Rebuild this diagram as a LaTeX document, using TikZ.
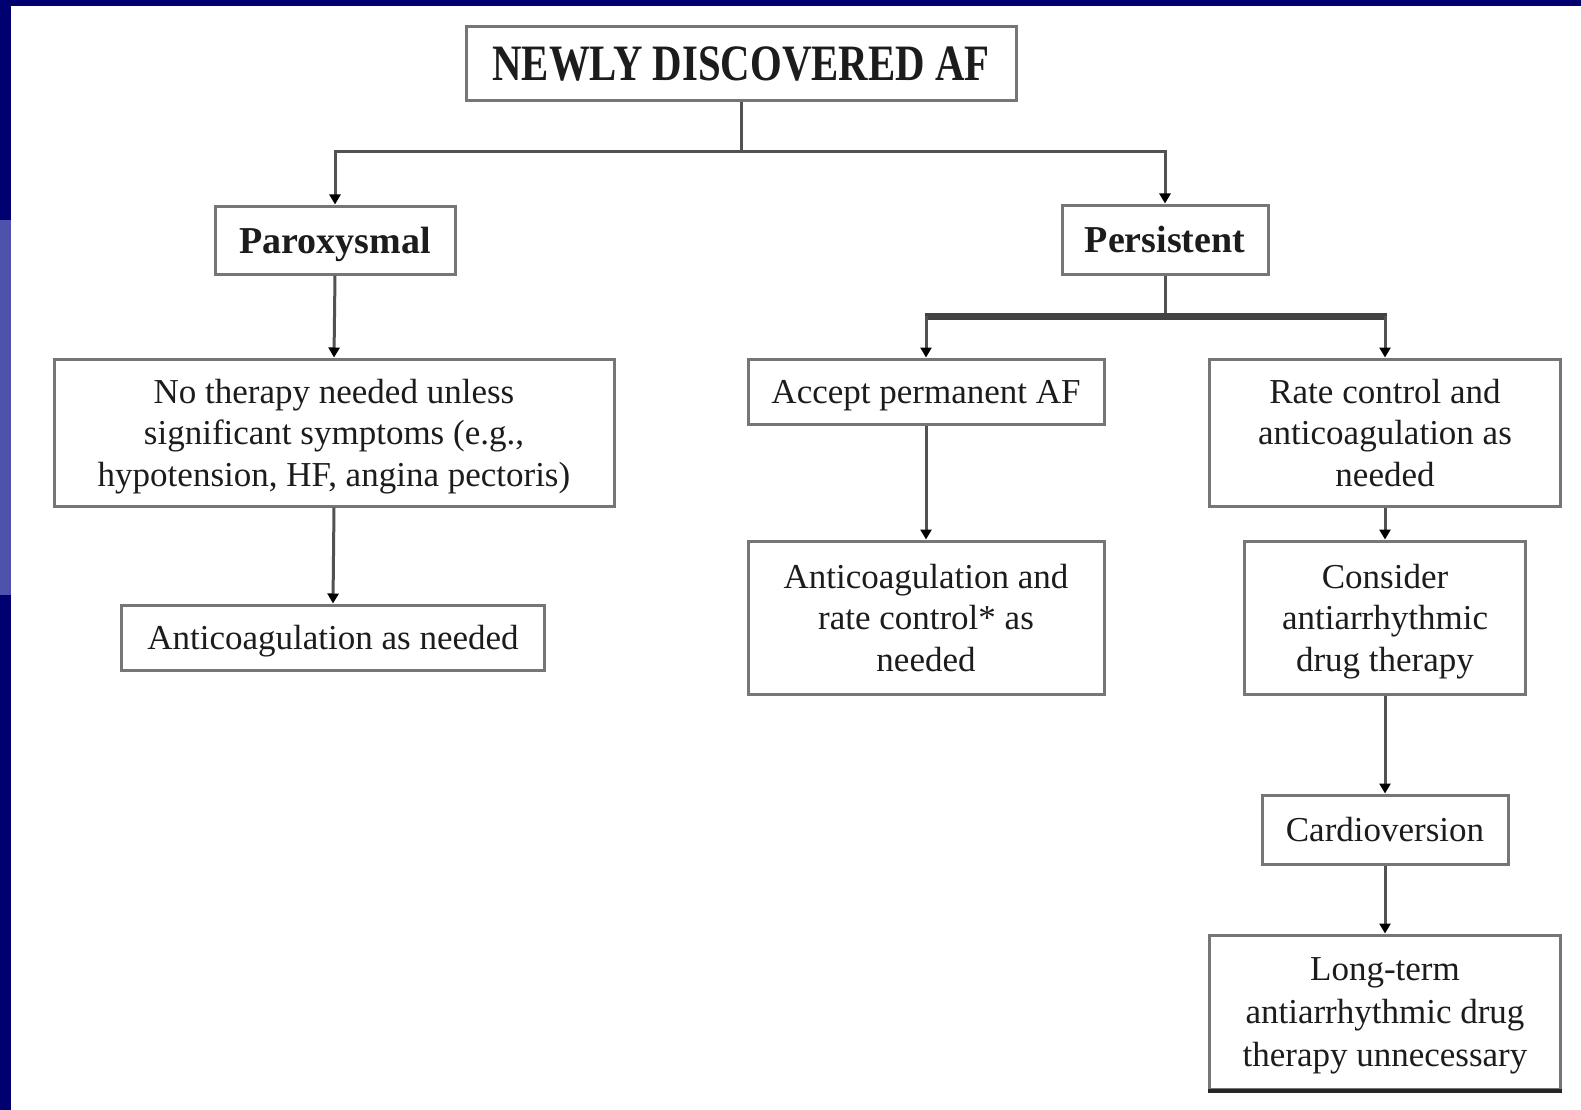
\documentclass[tikz,border=0pt]{standalone}
\usepackage{fontspec}
\setmainfont{Liberation Serif}
\newfontfamily\titlefont{Liberation Serif}[FakeStretch=0.8]
\usetikzlibrary{arrows.meta}
\definecolor{navy}{RGB}{0,0,112}
\definecolor{navylight}{RGB}{78,82,170}
\definecolor{boxline}{RGB}{118,118,118}
\definecolor{wire}{RGB}{82,82,82}
\definecolor{ink}{RGB}{28,28,28}

\begin{document}
\begin{tikzpicture}[x=1pt,y=-1pt,
  box/.style={draw=boxline, line width=3pt, fill=white, align=center,
    inner sep=0pt, text depth=0pt, text=ink, font=\fontsize{35}{41.5}\selectfont},
  head/.style={box, font=\fontsize{38}{44}\selectfont\bfseries},
  wire/.style={draw=wire, line width=3pt},
  arr/.style={wire, -{Triangle[length=10pt,width=11pt,color=black]}},
  bar/.style={draw=wire!80!black, line width=7pt}]

% page frame
\useasboundingbox (0,0) rectangle (1581,1110);
\fill[white] (0,0) rectangle (1581,1110);
\fill[navy] (0,0) rectangle (1581,6);
\fill[navy] (0,0) rectangle (11,1110);
\fill[navylight] (0,220) rectangle (11,595);

% boxes
\node[box, minimum width=550pt, minimum height=74pt,
  font=\fontsize{51}{56}\selectfont\titlefont\bfseries] (title) at (741,64) {NEWLY DISCOVERED AF};

\node[head, minimum width=240pt, minimum height=68pt] (parox) at (335,240) {Paroxysmal};
\node[head, minimum width=206pt, minimum height=69pt] (persist) at (1165,239.5) {Persistent};

\node[box, minimum width=560pt, minimum height=147pt] (nother) at (334,432.5)
  {No therapy needed unless\\significant symptoms (e.g.,\\hypotension, HF, angina pectoris)};
\node[box, minimum width=423pt, minimum height=65pt] (antil) at (333,637.5)
  {Anticoagulation as needed};

\node[box, minimum width=356pt, minimum height=65pt] (accept) at (926,391.5)
  {Accept permanent AF};
\node[box, minimum width=356pt, minimum height=153pt] (antir) at (926,617.5)
  {Anticoagulation and\\rate control* as\\needed};

\node[box, minimum width=351pt, minimum height=147pt] (rate) at (1385,432.5)
  {Rate control and\\anticoagulation as\\needed};
\node[box, minimum width=281pt, minimum height=153pt] (consider) at (1385,617.5)
  {Consider\\antiarrhythmic\\drug therapy};
\node[box, minimum width=246pt, minimum height=69pt] (cardio) at (1385,829.5)
  {Cardioversion};
\node[box, minimum width=351pt, minimum height=154pt,
  font=\fontsize{35}{43}\selectfont] (long) at (1385,1012)
  {Long-term\\antiarrhythmic drug\\therapy unnecessary};
\draw[line width=4pt, color=black!85] (long.south west) -- (long.south east);

% connectors
\coordinate (j1) at (741,152);
\draw[wire] (title.south) -- (j1);
\draw[arr] (j1) -| (parox.north);
\draw[arr] (j1) -| (persist.north);

\draw[arr] (parox.south) -- (nother.north);
\draw[arr] (nother.south) -- (antil.north);

\coordinate (j2) at (1165,316);
\coordinate (jl) at (accept.north |- j2);
\coordinate (jr) at (rate.north |- j2);
\draw[wire] (persist.south) -- (j2);
\draw[bar] ([xshift=-1.5pt]jl) -- ([xshift=1.5pt]jr);
\draw[arr] (jl) -- (accept.north);
\draw[arr] (jr) -- (rate.north);

\draw[arr] (accept.south) -- (antir.north);
\draw[arr] (rate.south) -- (consider.north);
\draw[arr] (consider.south) -- (cardio.north);
\draw[arr] (cardio.south) -- (long.north);
\end{tikzpicture}
\end{document}
